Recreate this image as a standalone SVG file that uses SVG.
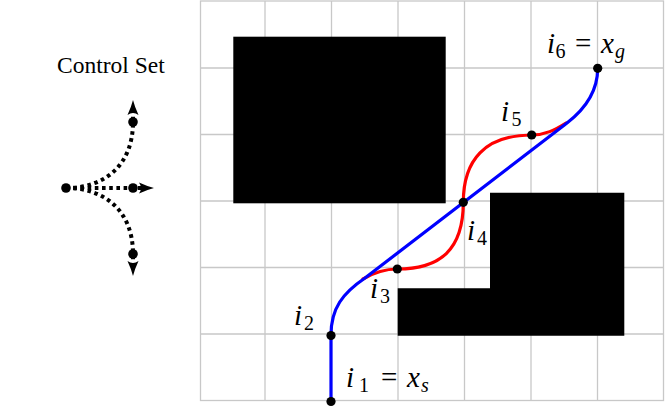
<svg xmlns="http://www.w3.org/2000/svg" width="665" height="407" viewBox="0 0 665 407">
<style>
.grid{stroke:#c8c8c8;stroke-width:1.3;fill:none}
.obs{fill:#000}
.blue{stroke:#0000ff;stroke-width:3.2;fill:none;stroke-linecap:round}
.red{stroke:#ff0000;stroke-width:3.2;fill:none;stroke-linecap:round}
.dot{fill:#000}
.dotted{stroke:#000;stroke-width:4;fill:none;stroke-dasharray:3.6 3.6}
.m{font-size:29px;fill:#000}
.it{font-style:italic}
.sub{font-size:20px}
.lbl{font-size:23.5px;fill:#000}
</style>
<defs>
<marker id="arr" markerUnits="userSpaceOnUse" viewBox="-10 -7 18 14" markerWidth="18" markerHeight="14" refX="0" refY="0" orient="auto">
<path d="M7,0 Q0,-1.8 -8,-5.5 Q-4,0 -8,5.5 Q0,1.8 7,0 Z" fill="#000"/>
</marker>
</defs>
<rect width="665" height="407" fill="#fff"/>
<g id="grid" class="grid">
<rect x="200.5" y="1" width="463" height="399.5"/>
<path d="M265,1V400.5M331.5,1V400.5M398,1V400.5M464.5,1V400.5M531,1V400.5M597.5,1V400.5"/>
<path d="M200.5,68H663.5M200.5,134.5H663.5M200.5,201H663.5M200.5,267.5H663.5M200.5,334H663.5"/>
</g>
<g id="obstacles">
<rect id="obstacle-1" class="obs" x="233.3" y="36.7" width="212.4" height="166.6"/>
<path id="obstacle-2" class="obs" d="M490,192.7H624.3V335.7H397.7V288.3H490Z"/>
</g>
<g id="connectors">
<path id="red-path" class="red" d="M363,279 C375,272 385,269 397.3,269 C440,269 463.3,250 463.3,202.3 C463.3,160 485,135 531.7,135 C545,135 555,130 566,123"/>
<path id="blue-path" class="blue" d="M331,401 L331,335 C331,308 343,293 365,278 L567,123 C580,113 597.7,95 597.7,68.3"/>
</g>
<g id="i1"><circle class="dot" cx="331" cy="401.5" r="4.6"/>
<text class="m" font-family="'Liberation Serif','DejaVu Serif',serif" y="387"><tspan class="it" x="346">i</tspan><tspan class="sub" x="359" y="392">1</tspan><tspan x="381" y="387">=</tspan><tspan class="it" x="407">x</tspan><tspan class="sub it" x="421" y="392">s</tspan></text></g>
<g id="i2"><circle class="dot" cx="331" cy="335.5" r="4.6"/>
<text class="m" font-family="'Liberation Serif','DejaVu Serif',serif" y="325"><tspan class="it" x="294">i</tspan><tspan class="sub" x="304" y="330">2</tspan></text></g>
<g id="i3"><circle class="dot" cx="397.3" cy="269" r="4.6"/>
<text class="m" font-family="'Liberation Serif','DejaVu Serif',serif" y="298"><tspan class="it" x="370">i</tspan><tspan class="sub" x="380" y="303">3</tspan></text></g>
<g id="i4"><circle class="dot" cx="463.3" cy="202.3" r="4.6"/>
<text class="m" font-family="'Liberation Serif','DejaVu Serif',serif" y="240"><tspan class="it" x="467">i</tspan><tspan class="sub" x="477" y="245">4</tspan></text></g>
<g id="i5"><circle class="dot" cx="531.7" cy="135" r="4.6"/>
<text class="m" font-family="'Liberation Serif','DejaVu Serif',serif" y="121"><tspan class="it" x="501">i</tspan><tspan class="sub" x="511.5" y="126">5</tspan></text></g>
<g id="i6"><circle class="dot" cx="597.7" cy="68.3" r="4.6"/>
<text class="m" font-family="'Liberation Serif','DejaVu Serif',serif" y="53"><tspan class="it" x="547">i</tspan><tspan class="sub" x="555.5" y="58">6</tspan><tspan x="575" y="53">=</tspan><tspan class="it" x="601">x</tspan><tspan class="sub it" x="615" y="58">g</tspan></text></g>
<g id="control-set">
<text class="lbl" font-family="'Liberation Serif','DejaVu Serif',serif" x="57" y="73">Control Set</text>
<path class="dotted" d="M66,188 C105,188 133,165 133,122 L133,107" marker-end="url(#arr)"/>
<path class="dotted" d="M66,188 L147,188" marker-end="url(#arr)"/>
<path class="dotted" d="M66,188 C105,188 133,211 133,254 L133,269" marker-end="url(#arr)"/>
<circle class="dot" cx="66" cy="188" r="4.8"/>
<circle class="dot" cx="133" cy="122" r="4.8"/>
<circle class="dot" cx="133" cy="188" r="4.8"/>
<circle class="dot" cx="133" cy="254" r="4.8"/>
</g>
</svg>
